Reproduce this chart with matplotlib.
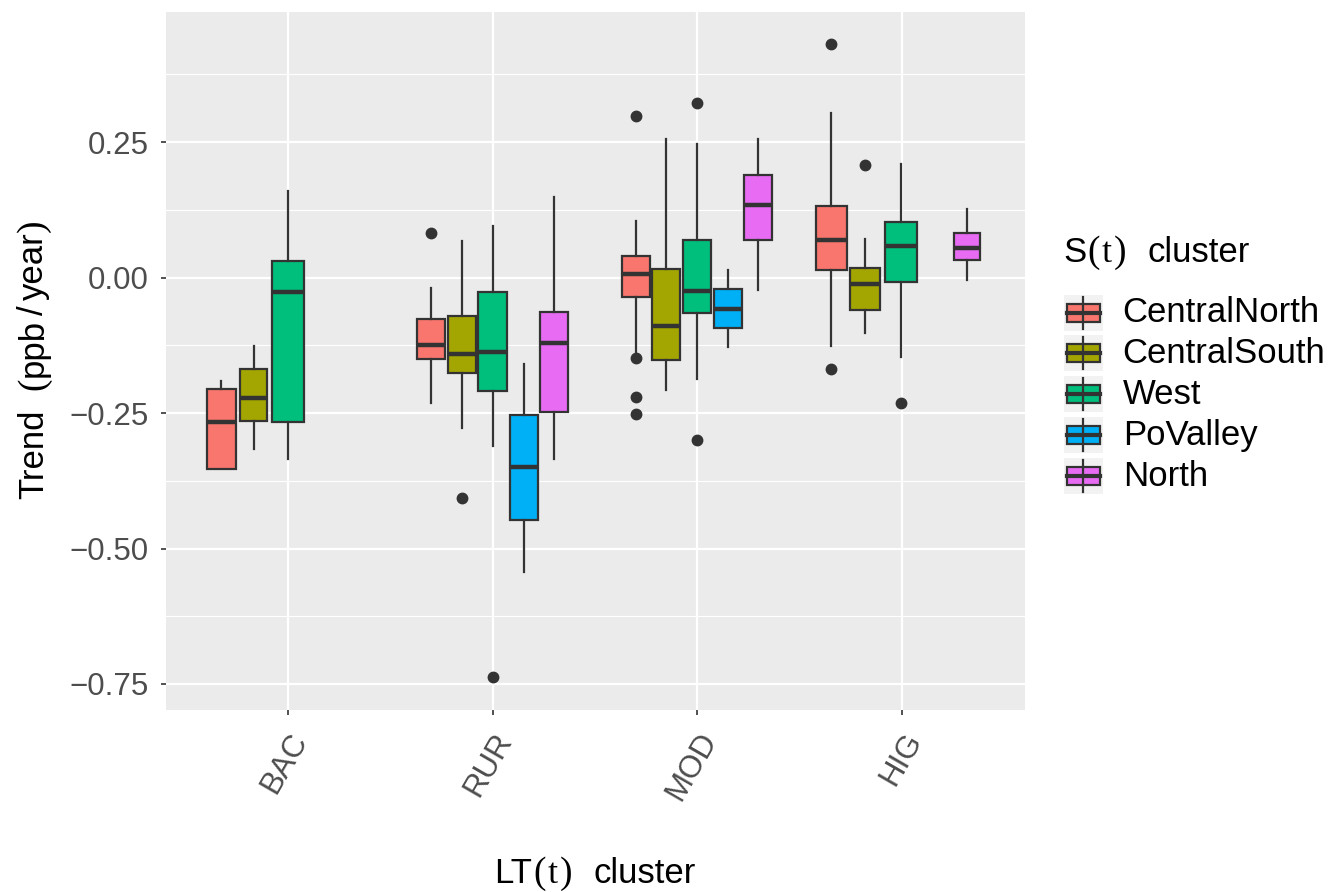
import matplotlib
matplotlib.use('Agg')
import matplotlib.pyplot as plt
from matplotlib.patches import Rectangle
from matplotlib.lines import Line2D
from matplotlib.transforms import IdentityTransform

plt.rcParams['font.family'] = ['Liberation Sans', 'DejaVu Sans']

# data (ppb/year)
groups = ['BAC', 'RUR', 'MOD', 'HIG']
clusters = ['CentralNorth', 'CentralSouth', 'West', 'PoValley', 'North']
colors = ['#F8766D', '#A3A500', '#00BF7D', '#00B0F6', '#E76BF3']

med = {
    'CentralNorth': [-0.267, -0.124, 0.007, 0.070],
    'CentralSouth': [-0.222, -0.141, -0.089, -0.011],
    'West':         [-0.027, -0.137, -0.024, 0.059],
    'PoValley':     [None, -0.350, -0.058, None],
    'North':        [None, -0.120, 0.134, 0.055],
}
q1 = {
    'CentralNorth': [-0.354, -0.150, -0.035, 0.014],
    'CentralSouth': [-0.265, -0.176, -0.152, -0.059],
    'West':         [-0.267, -0.210, -0.066, -0.008],
    'PoValley':     [None, -0.447, -0.094, None],
    'North':        [None, -0.249, 0.069, 0.032],
}
q3 = {
    'CentralNorth': [-0.206, -0.077, 0.040, 0.132],
    'CentralSouth': [-0.169, -0.071, 0.016, 0.018],
    'West':         [0.030, -0.026, 0.069, 0.103],
    'PoValley':     [None, -0.254, -0.021, None],
    'North':        [None, -0.064, 0.189, 0.083],
}
whislo = {
    'CentralNorth': [-0.354, -0.231, -0.139, -0.126],
    'CentralSouth': [-0.317, -0.277, -0.208, -0.102],
    'West':         [-0.335, -0.311, -0.187, -0.146],
    'PoValley':     [None, -0.543, -0.129, None],
    'North':        [None, -0.334, -0.023, -0.005],
}
whishi = {
    'CentralNorth': [-0.190, -0.020, 0.105, 0.303],
    'CentralSouth': [-0.126, 0.068, 0.256, 0.072],
    'West':         [0.160, 0.096, 0.246, 0.209],
    'PoValley':     [None, -0.159, 0.014, None],
    'North':        [None, 0.149, 0.255, 0.126],
}
outliers = {
    'CentralNorth': [[], [0.083], [0.299, -0.149, -0.220, -0.252], [0.431, -0.169]],
    'CentralSouth': [[], [-0.406], [], [0.208]],
    'West':         [[], [-0.738], [0.323, -0.299], [-0.231]],
    'PoValley':     [[], [], [], []],
    'North':        [[], [], [], []],
}

# dodge layout (offset from group centre, box width) in x units
offsets = {
    'CentralNorth': [-0.326, -0.300, -0.300, -0.345],
    'CentralSouth': [-0.168, -0.148, -0.151, -0.180],
    'West':         [0.000, 0.000, 0.000, -0.003],
    'PoValley':     [None, 0.152, 0.150, None],
    'North':        [None, 0.301, 0.298, 0.320],
}
widths = {
    'CentralNorth': [0.143, 0.137, 0.138, 0.153],
    'CentralSouth': [0.130, 0.137, 0.137, 0.143],
    'West':         [0.153, 0.138, 0.138, 0.155],
    'PoValley':     [None, 0.137, 0.138, None],
    'North':        [None, 0.138, 0.138, 0.127],
}

W, H = 1330, 892
fig = plt.figure(figsize=(W / 100, H / 100), dpi=100)
ax = fig.add_axes([166 / W, 1 - 710 / H, (1025 - 166) / W, (710 - 12) / H])
ax.set_facecolor('#EBEBEB')

edge = '#333333'
for c, col in zip(clusters, colors):
    for g in range(len(groups)):
        if med[c][g] is None:
            continue
        st = dict(med=med[c][g], q1=q1[c][g], q3=q3[c][g],
                  whislo=whislo[c][g], whishi=whishi[c][g],
                  fliers=outliers[c][g])
        ax.bxp([st], positions=[g + 1 + offsets[c][g]], widths=[widths[c][g]],
               patch_artist=True, showcaps=False, manage_ticks=False,
               boxprops=dict(facecolor=col, edgecolor=edge, linewidth=1.6),
               medianprops=dict(color=edge, linewidth=3.2, solid_capstyle='butt'),
               whiskerprops=dict(color=edge, linewidth=1.6),
               flierprops=dict(marker='o', markerfacecolor=edge,
                               markeredgecolor=edge, markersize=7.5))

ax.set_xlim(0.404, 4.602)
ax.set_ylim(-0.798, 0.490)
ax.set_xticks(range(1, len(groups) + 1))
ax.set_xticklabels(groups, rotation=60, ha='right', va='top',
                   rotation_mode='anchor', fontsize=22.5, color='#4D4D4D')
yt = [0.25, 0.0, -0.25, -0.5, -0.75]
ax.set_yticks(yt)
ax.set_yticklabels(['0.25', '0.00', '\u22120.25', '\u22120.50', '\u22120.75'],
                   fontsize=22.5, color='#4D4D4D')
ax.set_yticks([0.375, 0.125, -0.125, -0.375, -0.625], minor=True)
ax.tick_params(axis='both', which='major', length=3.5, width=1.2, color=edge)
ax.tick_params(axis='y', which='major', pad=9)
ax.tick_params(axis='x', which='major', pad=9)
ax.tick_params(axis='y', which='minor', length=0)
ax.grid(True, which='major', color='white', linewidth=1.6)
ax.grid(True, which='minor', axis='y', color='white', linewidth=0.8)
ax.set_axisbelow(True)
for s in ax.spines.values():
    s.set_visible(False)

# plotmath-like titles: sans text with bigger serif parentheses, built piece by piece
renderer = fig.canvas.get_renderer()
SANS, SERIF = 'Liberation Sans', 'Liberation Serif'


def compose(pieces, pos0, base, rot=0, center=True):
    arts, lens = [], []
    for s, fam, sz, gap in pieces:
        t = fig.text(0, 0, s, family=fam, fontsize=sz, rotation=rot,
                     ha='left', va='baseline', rotation_mode='anchor',
                     transform=IdentityTransform())
        bb = t.get_window_extent(renderer)
        lens.append(bb.height if rot == 90 else bb.width)
        arts.append(t)
    total = sum(lens) + sum(p[3] for p in pieces)
    pos = pos0 - total / 2 if center else pos0
    for t, L, p in zip(arts, lens, pieces):
        pos += p[3]
        t.set_position((pos, base) if rot == 0 else (base, pos))
        pos += L


compose([('LT', SANS, 25, 0), ('(', SERIF, 27, 1), ('t', SERIF, 26, 2),
         (')', SERIF, 27, 2), ('cluster', SANS, 25, 21)],
        595, H - 883)
compose([('Trend', SANS, 25, 0), ('(', SERIF, 27, 19), ('ppb', SANS, 25, 1),
         ('/', SANS, 25, 3.5), ('year', SANS, 25, 5), (')', SERIF, 27, 1)],
        H - 359, 43, rot=90)
compose([('S', SANS, 25, 0), ('(', SERIF, 27, 1), ('t', SERIF, 26, 2),
         (')', SERIF, 27, 2), ('cluster', SANS, 25, 21)],
        1063, H - 262, center=False)

# legend drawn by hand, ggplot style
def fx(x):
    return x / W


def fy(y):
    return 1 - y / H


for i, (c, col) in enumerate(zip(clusters, colors)):
    yc = 312.5 + 40.9 * i
    fig.add_artist(Rectangle((fx(1064), fy(yc + 18)), 38.7 / W, 36 / H,
                             facecolor='#F2F2F2', edgecolor='none',
                             transform=fig.transFigure))
    fig.add_artist(Line2D([fx(1083), fx(1083)], [fy(yc + 16), fy(yc - 16)],
                          color=edge, linewidth=1.6, transform=fig.transFigure))
    fig.add_artist(Rectangle((fx(1067), fy(yc + 9)), 32.5 / W, 18 / H,
                             facecolor=col, edgecolor=edge, linewidth=1.6,
                             transform=fig.transFigure))
    fig.add_artist(Line2D([fx(1067), fx(1099.5)], [fy(yc), fy(yc)],
                          color=edge, linewidth=3, transform=fig.transFigure))
    fig.text(fx(1122.7), fy(yc), c, fontsize=25, ha='left', va='center')

fig.savefig('out.png', dpi=100, facecolor='white')
